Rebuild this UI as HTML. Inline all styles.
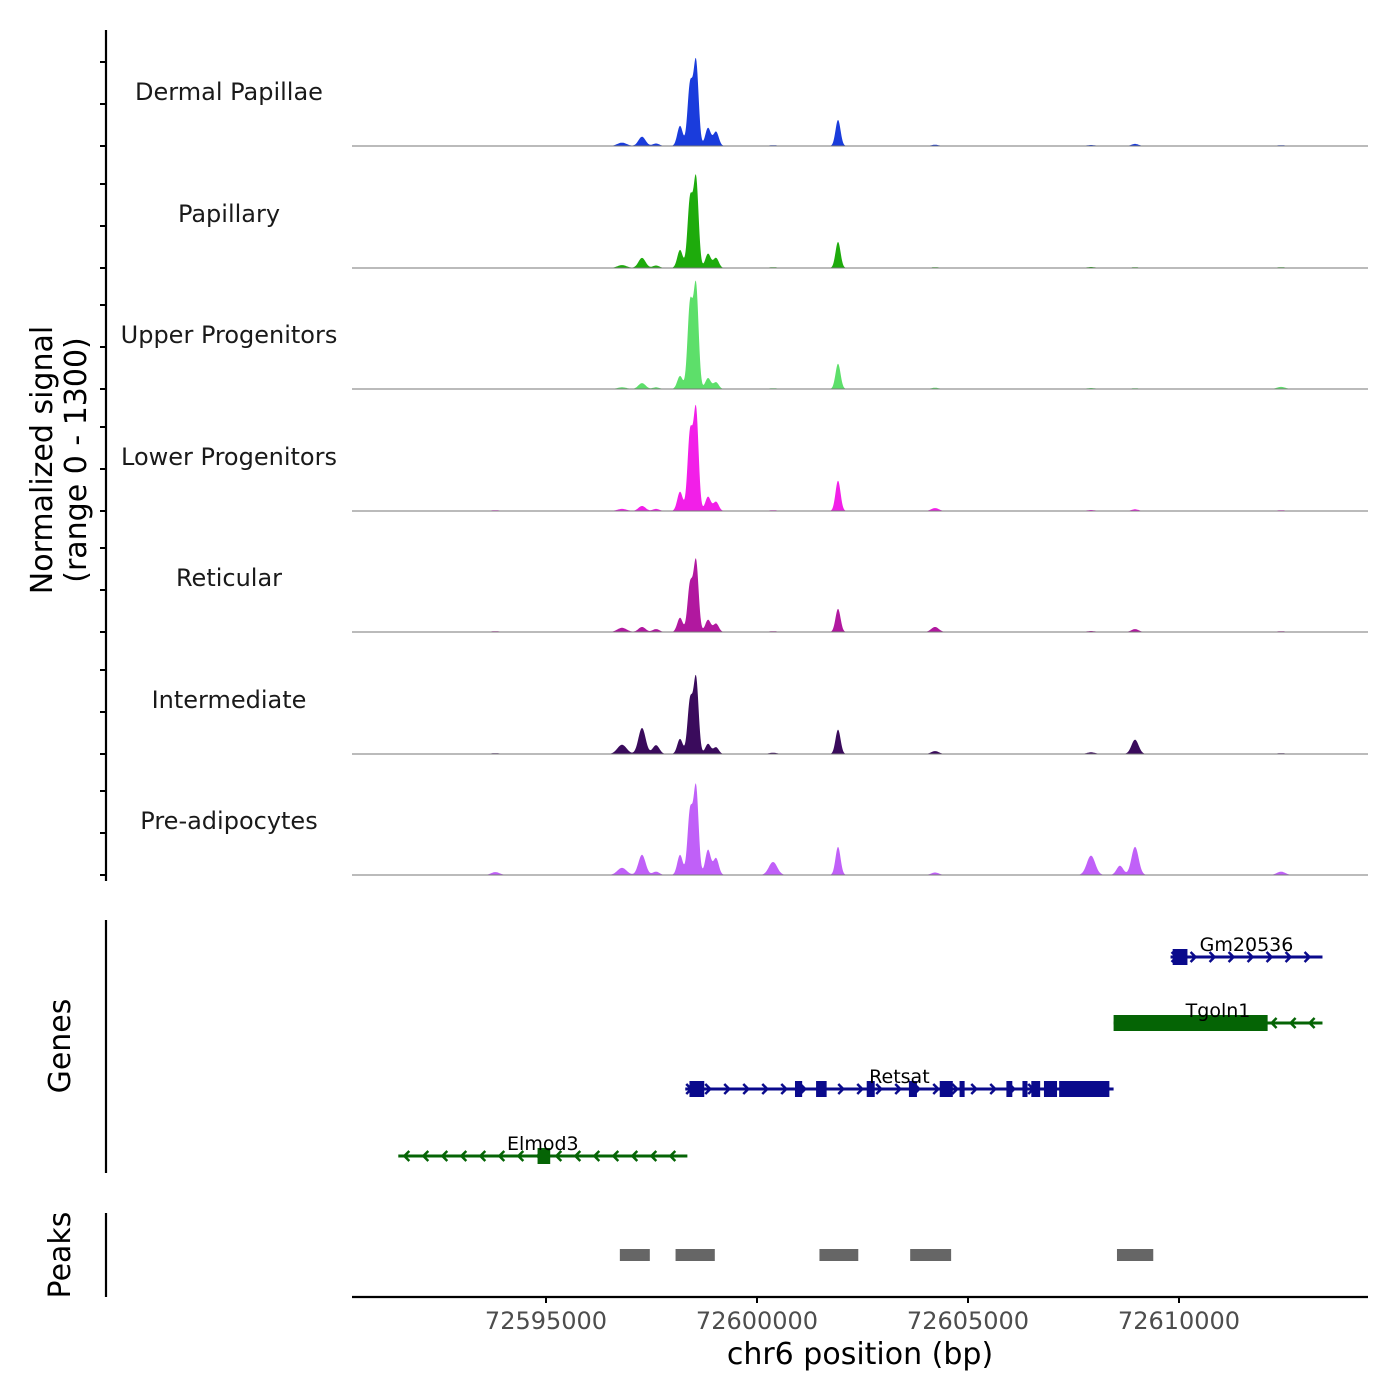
<!DOCTYPE html>
<html><head><meta charset="utf-8"><style>
body{margin:0;background:#fff}
svg{display:block;font-family:"DejaVu Sans","Liberation Sans",sans-serif}
</style></head><body>
<svg id="chart" width="1400" height="1400" viewBox="0 0 1400 1400"></svg>
<script>
const trackNames=["Dermal Papillae","Papillary","Upper Progenitors","Lower Progenitors","Reticular","Intermediate","Pre-adipocytes"];
const trackColors=["#1a3cdc","#1eab0c","#5ddf6a","#f21fe8","#b1189f","#3a0b5c","#c060f8"];
const peakPositions=[72596801,72597275,72597607,72598176,72598413,72598555,72598839,72599029,72600380,72601920,72604219,72607915,72608958,72612418,72593800,72608600];
const peakWidths=[110,85,80,65,60,60,65,65,100,60,90,100,85,100,100,80];
const sigDermal=[40,110,30,240,720,1000,215,170,10,310,15,12,25,10,5,5];
const sigPapillary=[35,120,30,215,810,1060,170,120,10,310,10,12,10,10,5,5];
const sigUpper=[20,70,20,155,1000,1220,130,80,10,300,15,12,10,25,5,5];
const sigLower=[25,60,25,230,920,1200,170,110,10,360,35,12,20,10,10,5];
const sigReticular=[50,60,35,170,560,840,145,100,10,275,60,12,35,10,10,5];
const sigIntermediate=[110,310,105,180,630,900,120,80,15,290,35,20,170,10,10,5];
const sigPreadipo=[85,240,40,240,750,1040,300,200,155,335,30,230,335,40,35,110];
const trackSignals=[sigDermal,sigPapillary,sigUpper,sigLower,sigReticular,sigIntermediate,sigPreadipo];
const xTicks=[72595000,72600000,72605000,72610000];
const geneNames=["Gm20536","Tgoln1","Retsat","Elmod3"];
const geneStarts=[72609800,72608450,72598300,72591500];
const geneEnds=[72613400,72613400,72608450,72598350];
const geneStrand=[1,-1,1,-1];
const geneExons=[[[72609850,72610200]],[[72608450,72612100]],[[72598400,72598750],[72600900,72601070],[72601400,72601650],[72602600,72602790],[72603600,72603790],[72604330,72604640],[72604800,72604920],[72605910,72606050],[72606290,72606410],[72606500,72606710],[72606800,72607110],[72607160,72608350]],[[72594800,72595100]]];
const peakRegionStarts=[72596750,72598070,72601480,72603630,72608530];
const peakRegionEnds=[72597460,72599000,72602400,72604600,72609390];

const svg=document.getElementById('chart');
const NS="http://www.w3.org/2000/svg";
function mk(tag,attrs,parent){const e=document.createElementNS(NS,tag);for(const k in attrs)e.setAttribute(k,attrs[k]);(parent||svg).appendChild(e);return e;}
const X0=352,X1=1368;
const bpPerPx=5000/211, bpAt0=72595000-(546-352)*bpPerPx;
const xScale=bp=>X0+(bp-bpAt0)/bpPerPx;
const baselines=[146,268,389,511,632,754,875];
const yUnit=42/500;
const ax=mk('line',{x1:106,y1:30,x2:106,y2:881,stroke:'#000','stroke-width':2.2});

baselines.forEach((b,i)=>{
  [0,500,1000].forEach(v=>{const t=mk('line',{x1:100,x2:106,y1:b-v*yUnit,y2:b-v*yUnit,stroke:'#000','stroke-width':2});
  });
  const g=mk('g',{});
  
  
  const lbl=mk('text',{x:229,y:b-46,'text-anchor':'middle','font-size':24,fill:'#1a1a1a'},g);
  lbl.textContent=trackNames[i];
  
  const sig=trackSignals[i];
  let d=`M${X0},${b}`;
  for(let px=X0;px<=X1;px+=0.5){const bp=bpAt0+(px-X0)*bpPerPx;let s=0;
    for(let k=0;k<peakPositions.length;k++){const z=(bp-peakPositions[k])/peakWidths[k];s+=sig[k]*Math.exp(-0.5*z*z);}
    d+=`L${px.toFixed(1)},${(b-s*yUnit).toFixed(1)}`;}
  d+=`L${X1},${b}Z`;
  const p=mk('path',{d,fill:trackColors[i],stroke:'none'},g);
  
  const bl=mk('line',{x1:X0,x2:X1,y1:b,y2:b,stroke:'#777','stroke-width':1},g);
  
});
const yt=mk('text',{transform:'translate(52,460) rotate(-90)','text-anchor':'middle','font-size':30,fill:'#000'});

yt.innerHTML='<tspan x="0" dy="0">Normalized signal</tspan><tspan x="0" dy="34">(range 0 - 1300)</tspan>';
const gax=mk('line',{x1:106,y1:920,x2:106,y2:1173,stroke:'#000','stroke-width':2.2});

const gt=mk('text',{transform:'translate(70,1046) rotate(-90)','text-anchor':'middle','font-size':30});
gt.textContent='Genes';
const geneY=[957,1023,1089,1156];
geneNames.forEach((n,i)=>{
  const col=geneStrand[i]>0?'#0a0a8c':'#056405';
  const g=mk('g',{});
  
  const y=geneY[i],xa=xScale(geneStarts[i]),xb=xScale(geneEnds[i]);
  mk('line',{x1:xa,x2:xb,y1:y,y2:y,stroke:col,'stroke-width':3},g);
  for(let x=xa+6;x<xb;x+=19){const s=geneStrand[i]*5;
    mk('polyline',{points:`${x-s},${y-5} ${x},${y} ${x-s},${y+5}`,fill:'none',stroke:col,'stroke-width':2.5},g);}
  geneExons[i].forEach(e=>{const r=mk('rect',{x:xScale(e[0]),y:y-8,width:xScale(e[1])-xScale(e[0]),height:16,fill:col},g);
    });
  const t=mk('text',{x:(xa+xb)/2,y:y-6,'text-anchor':'middle','font-size':19,fill:'#000'},g);
  t.textContent=n;
});
const pax=mk('line',{x1:106,y1:1213,x2:106,y2:1297,stroke:'#000','stroke-width':2.2});

const pt=mk('text',{transform:'translate(70,1255) rotate(-90)','text-anchor':'middle','font-size':30});
pt.textContent='Peaks';
peakRegionStarts.forEach((s,i)=>{const r=mk('rect',{x:xScale(s),y:1249,width:xScale(peakRegionEnds[i])-xScale(s),height:12,fill:'#666'});
  });
const xa=mk('line',{x1:X0,x2:X1,y1:1297,y2:1297,stroke:'#000','stroke-width':2.2});

xTicks.forEach(v=>{const x=xScale(v);
  const t=mk('line',{x1:x,x2:x,y1:1297,y2:1303,stroke:'#000','stroke-width':2});
  
  const l=mk('text',{x,y:1329,'text-anchor':'middle','font-size':24,fill:'#4d4d4d'});
  l.textContent=v;});
const xt=mk('text',{x:860,y:1364,'text-anchor':'middle','font-size':30});
xt.textContent='chr6 position (bp)';
</script>
</body></html>
